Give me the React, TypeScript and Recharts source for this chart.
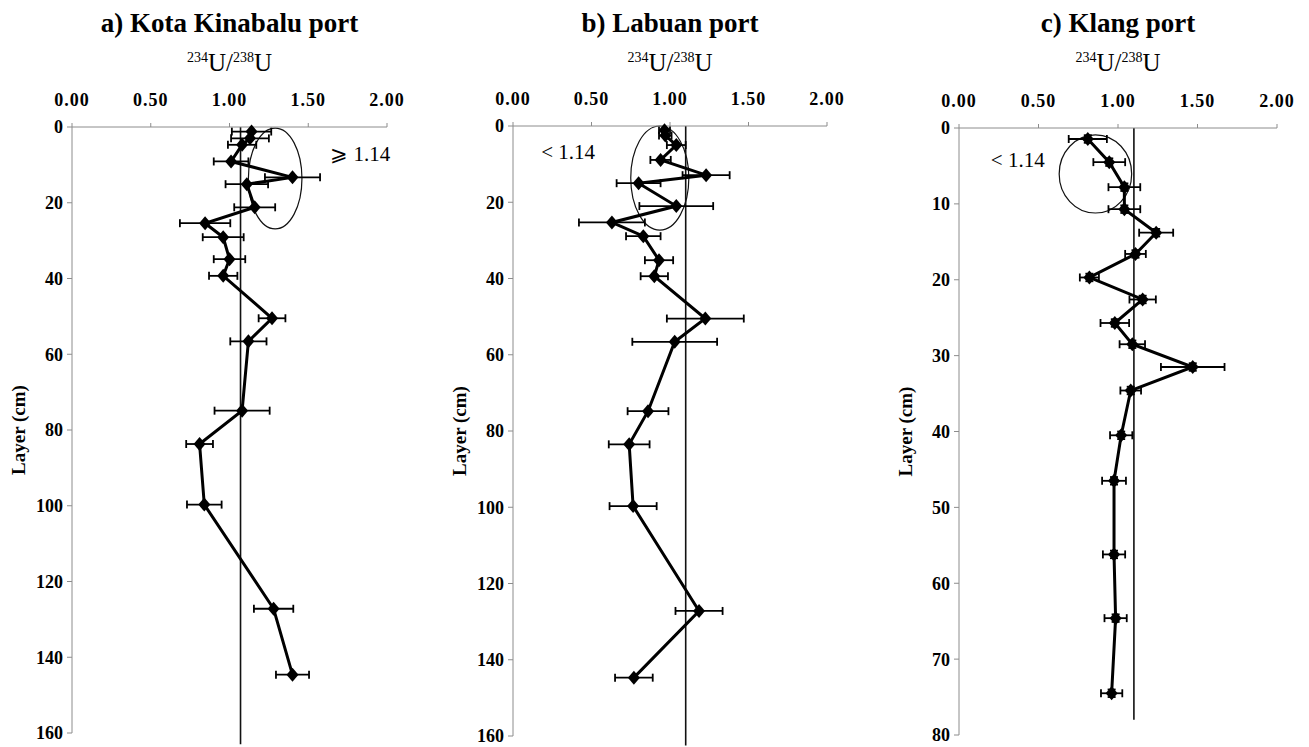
import React from 'react';
import {
  ScatterChart,
  Scatter,
  XAxis,
  YAxis,
  ErrorBar,
  ReferenceLine,
  ReferenceArea,
  ReferenceDot,
} from 'recharts';

// a) Kota Kinabalu port
const kkDepth = [1.2, 3.0, 4.7, 9.1, 13.3, 15.1, 21.2, 25.4, 29.1, 34.9, 39.3, 50.5, 56.6, 74.9, 83.7, 99.7, 127.2, 144.6];
const kkRatio = [1.14, 1.13, 1.08, 1.01, 1.4, 1.11, 1.16, 0.845, 0.96, 1.0, 0.96, 1.27, 1.12, 1.08, 0.81, 0.84, 1.28, 1.4];
const kkErr = [0.125, 0.12, 0.09, 0.11, 0.175, 0.135, 0.13, 0.16, 0.13, 0.1, 0.09, 0.085, 0.115, 0.175, 0.085, 0.11, 0.125, 0.105];

// b) Labuan port
const lbDepth = [1.1, 2.5, 5.0, 8.9, 12.9, 15.0, 21.0, 25.3, 28.9, 35.2, 39.4, 50.5, 56.6, 74.8, 83.5, 99.7, 127.2, 144.7];
const lbRatio = [0.965, 0.97, 1.04, 0.94, 1.23, 0.8, 1.04, 0.63, 0.83, 0.93, 0.9, 1.225, 1.03, 0.86, 0.74, 0.765, 1.185, 0.77];
const lbErr = [0.035, 0.04, 0.06, 0.065, 0.15, 0.14, 0.235, 0.21, 0.11, 0.09, 0.087, 0.245, 0.27, 0.13, 0.13, 0.15, 0.15, 0.12];

// c) Klang port
const klDepth = [1.45, 4.5, 7.8, 10.7, 13.8, 16.6, 19.7, 22.6, 25.7, 28.5, 31.5, 34.6, 40.5, 46.5, 56.2, 64.6, 74.5];
const klRatio = [0.81, 0.945, 1.04, 1.04, 1.24, 1.11, 0.82, 1.155, 0.98, 1.09, 1.47, 1.08, 1.02, 0.975, 0.975, 0.985, 0.96];
const klErr = [0.12, 0.1, 0.1, 0.1, 0.107, 0.065, 0.06, 0.083, 0.09, 0.08, 0.2, 0.065, 0.07, 0.075, 0.07, 0.07, 0.067];
const klDepthErr = 0.5;

const ratioTicks = [0, 0.5, 1, 1.5, 2];
const deepTicks = [0, 20, 40, 60, 80, 100, 120, 140, 160];
const shallowTicks = [0, 10, 20, 30, 40, 50, 60, 70, 80];

const serif = '"Liberation Serif", "Times New Roman", serif';

const Diamond = (props: any) => {
  const { cx, cy } = props;
  if (cx == null || cy == null) return null;
  return <polygon points={`${cx},${cy - 7} ${cx + 6},${cy} ${cx},${cy + 7} ${cx - 6},${cy}`} fill="#000" />;
};

const Ellipse = (props: any) => {
  const { x, y, width, height } = props;
  return (
    <ellipse
      cx={x + width / 2}
      cy={y + height / 2}
      rx={width / 2}
      ry={height / 2}
      fill="none"
      stroke="#111"
      strokeWidth={1.2}
    />
  );
};

interface PanelProps {
  title: string;
  left: number;
  top: number;
  plotW: number;
  plotH: number;
  depth: number[];
  ratio: number[];
  err: number[];
  depthErr?: number;
  yMax: number;
  yTicks: number[];
  refX: number;
  refEnd: number;
  ellipse: [number, number, number, number];
  note: string;
  noteAt: [number, number];
}

const Panel: React.FC<PanelProps> = (p) => {
  const data = p.depth.map((d, i) => ({
    depth: d,
    ratio: p.ratio[i],
    xErr: p.err[i],
    yErr: p.depthErr ?? 0,
  }));
  const width = p.plotW + 72 + 43;
  const height = p.plotH + p.top + 12;
  const plotLeft = p.left + 72;

  return (
    <>
      <div
        style={{
          position: 'absolute',
          left: plotLeft - 20,
          width: p.plotW + 40,
          top: 8,
          textAlign: 'center',
          fontFamily: serif,
          fontWeight: 'bold',
          fontSize: 27,
          lineHeight: '30px',
        }}
      >
        {p.title}
      </div>
      <div
        style={{
          position: 'absolute',
          left: plotLeft,
          width: p.plotW,
          top: 43,
          textAlign: 'center',
          fontFamily: serif,
          fontSize: 25,
          lineHeight: '30px',
        }}
      >
        <sup style={{ fontSize: 14 }}>234</sup>U/<sup style={{ fontSize: 14 }}>238</sup>U
      </div>
      <div style={{ position: 'absolute', left: p.left, top: 0 }}>
        <ScatterChart
          width={width}
          height={height}
          margin={{ top: p.top - 40, right: 43, bottom: 12, left: 12 }}
        >
          <XAxis
            type="number"
            dataKey="ratio"
            orientation="top"
            domain={[0, 2]}
            ticks={ratioTicks}
            tickFormatter={(v: number) => v.toFixed(2)}
            height={40}
            stroke="#8c8c8c"
            tickSize={4}
            tickMargin={17}
            tick={{ fill: '#000', fontSize: 18, fontWeight: 'bold', fontFamily: serif, letterSpacing: 1 }}
          />
          <YAxis
            type="number"
            dataKey="depth"
            reversed
            domain={[0, p.yMax]}
            ticks={p.yTicks}
            width={60}
            stroke="#8c8c8c"
            tickSize={5}
            tickMargin={4}
            tick={{ fill: '#000', fontSize: 18, fontWeight: 'bold', fontFamily: serif }}
            label={{
              value: 'Layer (cm)',
              content: (lp: any) => {
                const vb = lp.viewBox;
                const cx = vb.x + 6;
                const cy = vb.y + vb.height / 2;
                return (
                  <text
                    x={cx}
                    y={cy}
                    transform={`rotate(-90, ${cx}, ${cy})`}
                    textAnchor="middle"
                    dominantBaseline="central"
                    fontFamily={serif}
                    fontWeight="bold"
                    fontSize={19}
                    fill="#000"
                  >
                    Layer (cm)
                  </text>
                );
              },
            }}
          />
          <ReferenceArea
            x1={p.ellipse[0]}
            x2={p.ellipse[1]}
            y1={p.ellipse[2]}
            y2={p.ellipse[3]}
            ifOverflow="visible"
            shape={Ellipse}
          />
          <ReferenceDot
            x={p.noteAt[0]}
            y={p.noteAt[1]}
            ifOverflow="visible"
            shape={(sp: any) => (
              <text
                x={sp.cx}
                y={sp.cy}
                dominantBaseline="central"
                fontFamily={serif}
                fontSize={21}
                fill="#000"
              >
                {p.note}
              </text>
            )}
          />
          <ReferenceLine
            segment={[
              { x: p.refX, y: 0 },
              { x: p.refX, y: p.refEnd },
            ]}
            ifOverflow="visible"
            stroke="#111"
            strokeWidth={1.6}
          />
          <Scatter
            data={data}
            fill="#000"
            shape={Diamond}
            line={{ stroke: '#000', strokeWidth: 3 }}
            isAnimationActive={false}
          >
            <ErrorBar dataKey="xErr" direction="x" width={4} stroke="#000" strokeWidth={1.8} />
            {p.depthErr ? (
              <ErrorBar dataKey="yErr" direction="y" width={4} stroke="#000" strokeWidth={1.8} />
            ) : null}
          </Scatter>
        </ScatterChart>
      </div>
    </>
  );
};

export default function App() {
  return (
    <div style={{ position: 'absolute', left: 0, top: 0, width: 1309, height: 747, background: '#fff' }}>
      <Panel
        title="a) Kota Kinabalu port"
        left={0}
        top={127}
        plotW={315}
        plotH={606}
        depth={kkDepth}
        ratio={kkRatio}
        err={kkErr}
        yMax={160}
        yTicks={deepTicks}
        refX={1.07}
        refEnd={163}
        ellipse={[1.12, 1.46, 0.3, 26.9]}
        note="⩾ 1.14"
        noteAt={[1.64, 7]}
      />
      <Panel
        title="b) Labuan port"
        left={441}
        top={126}
        plotW={314}
        plotH={610}
        depth={lbDepth}
        ratio={lbRatio}
        err={lbErr}
        yMax={160}
        yTicks={deepTicks}
        refX={1.1}
        refEnd={162.5}
        ellipse={[0.75, 1.12, 0, 27.3]}
        note="< 1.14"
        noteAt={[0.18, 6.8]}
      />
      <Panel
        title="c) Klang port"
        left={887}
        top={128}
        plotW={318}
        plotH={607}
        depth={klDepth}
        ratio={klRatio}
        err={klErr}
        depthErr={klDepthErr}
        yMax={80}
        yTicks={shallowTicks}
        refX={1.1}
        refEnd={78}
        ellipse={[0.63, 1.086, 0.9, 11.2]}
        note="< 1.14"
        noteAt={[0.2, 4.2]}
      />
    </div>
  );
}
